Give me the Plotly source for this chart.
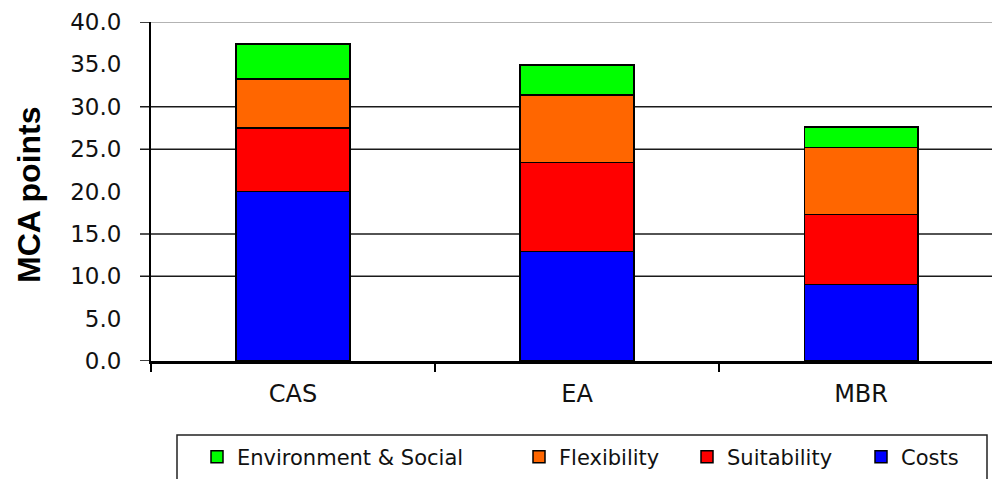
import plotly.graph_objects as go

# ---- data -------------------------------------------------------------
categories = ["CAS", "EA", "MBR"]
costs = [20.0, 12.9, 9.0]
suitability = [7.5, 10.5, 8.3]
flexibility = [5.8, 8.0, 7.9]
env_social = [4.1, 3.5, 2.4]

series_names = ["Costs", "Suitability", "Flexibility", "Environment & Social"]
series_values = [costs, suitability, flexibility, env_social]
series_colors = ["#0000FF", "#FF0000", "#FF6600", "#00FF00"]

y_ticks = [0, 5, 10, 15, 20, 25, 30, 35, 40]
y_ticktext = [f"{v:.1f}" for v in y_ticks]
grid_levels = [10, 15, 25, 30]

# ---- layout geometry (pixels) ----------------------------------------
W, H = 992, 479
ML, MR, MT, MB = 151, 0, 22, 118
PW = W - ML - MR
PH = H - MT - MB


def px_x(px):
    return (px - ML) / PW


def px_y(py):
    return (H - MB - py) / PH


# one legend per series so each entry sits at its own spot in the key box
legend_left_px = {"Environment & Social": 197, "Flexibility": 519,
                  "Suitability": 687, "Costs": 861}
legend_ids = {"Costs": "legend4", "Suitability": "legend3",
              "Flexibility": "legend2", "Environment & Social": "legend"}

fig = go.Figure()
for name, vals, col in zip(series_names, series_values, series_colors):
    fig.add_trace(go.Bar(
        x=categories, y=vals, name=name, width=0.40,
        marker=dict(color=col, line=dict(color="#000000", width=1.5)),
        legend=legend_ids[name],
    ))

legend_font = dict(family="DejaVu Sans", size=21, color="#111111")
legend_layouts = {}
for name, lid in legend_ids.items():
    legend_layouts[lid] = dict(
        x=px_x(legend_left_px[name]), xanchor="left",
        y=px_y(457), yanchor="middle",
        orientation="h", bgcolor="rgba(0,0,0,0)", borderwidth=0,
        font=legend_font, itemwidth=30,
    )

shapes = []
tick_x0 = px_x(140)
for g in grid_levels:
    shapes.append(dict(type="line", xref="paper", yref="y", x0=tick_x0, x1=1,
                       y0=g, y1=g, layer="below",
                       line=dict(color="#1a1a1a", width=1.5)))
# outer ticks at the axis ends and the light top border line
for g in [0, 40]:
    shapes.append(dict(type="line", xref="paper", yref="y", x0=tick_x0, x1=0,
                       y0=g, y1=g, line=dict(color="#000000", width=1.5)))
shapes.append(dict(type="line", xref="paper", yref="y", x0=0, x1=1,
                   y0=40, y1=40, layer="below",
                   line=dict(color="#9a9a9a", width=1.5)))
# key box
shapes.append(dict(type="rect", xref="paper", yref="paper",
                   x0=px_x(177), x1=px_x(987), y0=px_y(435), y1=px_y(520),
                   line=dict(color="#222222", width=1.5),
                   fillcolor="rgba(0,0,0,0)"))

fig.update_layout(
    width=W, height=H,
    margin=dict(l=ML, r=MR, t=MT, b=MB, pad=0),
    paper_bgcolor="white", plot_bgcolor="white",
    barmode="stack",
    showlegend=True,
    shapes=shapes,
    annotations=[dict(
        text="MCA points", xref="paper", yref="paper",
        x=px_x(29), y=px_y(195), xanchor="center", yanchor="middle",
        textangle=-90, showarrow=False,
        font=dict(family="Liberation Sans", size=32, color="#000000",
                  weight="bold"),
    )],
    **legend_layouts,
)

fig.update_xaxes(
    type="category", range=[-0.5, 2.461],
    showline=True, linecolor="#000000", linewidth=2.5,
    ticks="outside", tickson="boundaries", ticklen=8, tickwidth=1.5,
    tickcolor="#000000", showgrid=False,
    tickfont=dict(family="DejaVu Sans", size=24, color="#111111"),
    ticklabelstandoff=9,
)
fig.update_yaxes(
    range=[0, 40], tickmode="array", tickvals=y_ticks, ticktext=y_ticktext,
    ticks="", showgrid=False, zeroline=False,
    showline=True, linecolor="#000000", linewidth=2,
    tickfont=dict(family="DejaVu Sans", size=23, color="#111111"),
    ticklabelstandoff=23,
)

fig.write_html("out.html")
